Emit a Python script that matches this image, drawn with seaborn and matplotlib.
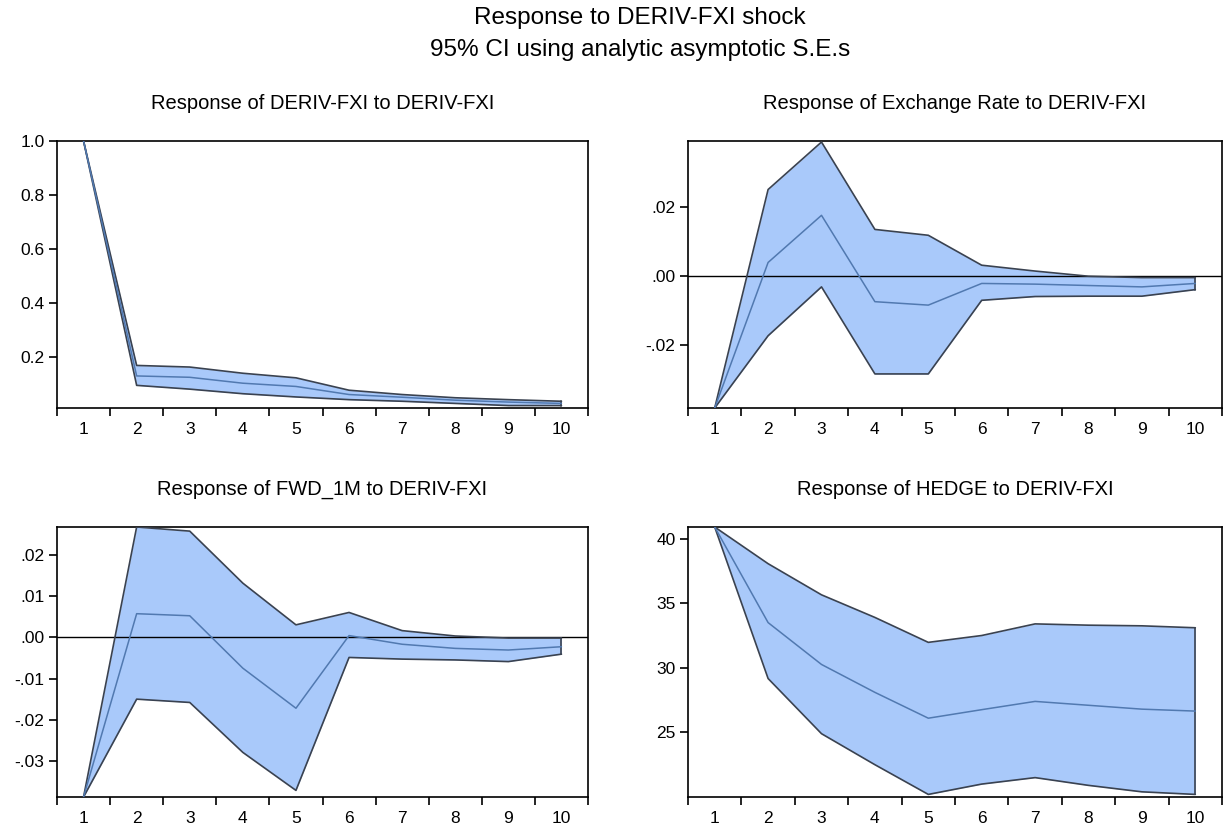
import numpy as np
import pandas as pd
import matplotlib
matplotlib.use("Agg")
import matplotlib.pyplot as plt
import seaborn as sns

periods = list(range(1, 11))

# Response of DERIV-FXI to DERIV-FXI
fxi_mean = [1.0, 0.128, 0.123, 0.101, 0.089, 0.059, 0.049, 0.038, 0.031, 0.026]
fxi_upper = [1.0, 0.167, 0.161, 0.138, 0.121, 0.075, 0.059, 0.047, 0.040, 0.034]
fxi_lower = [1.0, 0.093, 0.079, 0.062, 0.050, 0.040, 0.034, 0.026, 0.018, 0.018]

# Response of Exchange Rate to DERIV-FXI
er_mean = [-0.0383, 0.0040, 0.0177, -0.0074, -0.0084, -0.0021, -0.0023, -0.0027, -0.0031, -0.0021]
er_upper = [-0.0383, 0.0252, 0.0390, 0.0136, 0.0119, 0.0032, 0.0015, 0.0000, -0.0004, -0.0004]
er_lower = [-0.0383, -0.0173, -0.0031, -0.0284, -0.0284, -0.0070, -0.0059, -0.0058, -0.0058, -0.0039]

# Response of FWD_1M to DERIV-FXI
fwd_mean = [-0.0387, 0.0057, 0.0052, -0.0075, -0.0172, 0.0004, -0.0017, -0.0027, -0.0031, -0.0023]
fwd_upper = [-0.0387, 0.0267, 0.0257, 0.0131, 0.0030, 0.0060, 0.0016, 0.0003, -0.0002, -0.0002]
fwd_lower = [-0.0387, -0.0150, -0.0158, -0.0279, -0.0371, -0.0049, -0.0053, -0.0055, -0.0059, -0.0041]

# Response of HEDGE to DERIV-FXI
hedge_mean = [40.9, 33.5, 30.26, 28.1, 26.1, 26.76, 27.4, 27.1, 26.8, 26.65]
hedge_upper = [40.9, 38.06, 35.65, 33.9, 31.97, 32.5, 33.4, 33.3, 33.25, 33.1]
hedge_lower = [40.9, 29.17, 24.9, 22.5, 20.2, 21.0, 21.5, 20.9, 20.4, 20.2]

titles = ["Response of DERIV-FXI to DERIV-FXI",
          "Response of Exchange Rate to DERIV-FXI",
          "Response of FWD_1M to DERIV-FXI",
          "Response of HEDGE to DERIV-FXI"]

panels = [
    (fxi_mean, fxi_upper, fxi_lower, [0.2, 0.4, 0.6, 0.8, 1.0], ["0.2", "0.4", "0.6", "0.8", "1.0"], (0.009, 1.0), False),
    (er_mean, er_upper, er_lower, [-0.02, 0.0, 0.02], ["-.02", ".00", ".02"], (-0.0383, 0.0393), True),
    (fwd_mean, fwd_upper, fwd_lower, [-0.03, -0.02, -0.01, 0.0, 0.01, 0.02],
     ["-.03", "-.02", "-.01", ".00", ".01", ".02"], (-0.0387, 0.0267), True),
    (hedge_mean, hedge_upper, hedge_lower, [25, 30, 35, 40], ["25", "30", "35", "40"], (20.0, 40.9), False),
]

sns.set_style("white")
plt.rcParams['font.family'] = ['Liberation Sans', 'DejaVu Sans']
plt.rcParams['text.color'] = 'black'
plt.rcParams['xtick.color'] = 'black'
plt.rcParams['ytick.color'] = 'black'

fig = plt.figure(figsize=(12.24, 8.33), dpi=100)
W, H = 1224, 833
boxes = [(57, 141, 588, 408), (688, 141, 1222, 408),
         (57, 527, 588, 797), (688, 527, 1222, 797)]

fill_c = "#A9C9FA"
edge_c = "#3A4250"
mean_c = "#5179B0"

for (x0, y0, x1, y1), title, (m, u, l, yt, ytl, ylim, zero) in zip(boxes, titles, panels):
    ax = fig.add_axes([x0 / W, 1 - y1 / H, (x1 - x0) / W, (y1 - y0) / H])
    df = pd.DataFrame({"period": periods, "mean": m, "upper": u, "lower": l})
    ax.fill_between(df["period"], df["lower"], df["upper"], color=fill_c, linewidth=0, zorder=1)
    if zero:
        ax.axhline(0, color="black", lw=1.0, zorder=2)
    sns.lineplot(data=df, x="period", y="upper", ax=ax, color=edge_c, lw=1.2, zorder=3)
    sns.lineplot(data=df, x="period", y="lower", ax=ax, color=edge_c, lw=1.2, zorder=3)
    sns.lineplot(data=df, x="period", y="mean", ax=ax, color=mean_c, lw=1.1, zorder=4)
    ax.plot([10, 10], [l[-1], u[-1]], color=edge_c, lw=1.2, zorder=3)
    ax.set_xlim(0.5, 10.5)
    ax.set_ylim(*ylim)
    ax.set_xticks(np.arange(0.5, 11.0, 1.0))
    ax.set_xticklabels([])
    ax.set_xticks(periods, minor=True)
    ax.set_xticklabels([str(p) for p in periods], minor=True)
    ax.tick_params(axis="x", which="major", bottom=True, direction="out", length=6, width=1.2,
                   color="black", pad=2)
    ax.tick_params(axis="x", which="minor", bottom=True, length=0, labelsize=12.5, pad=10,
                   labelcolor="black")
    ax.set_yticks(yt)
    ax.set_yticklabels(ytl)
    ax.tick_params(axis="y", left=True, direction="out", length=6, width=1.2, color="black",
                   labelsize=12.5, pad=3, labelcolor="black")
    ax.set_xlabel("")
    ax.set_ylabel("")
    for s in ax.spines.values():
        s.set_visible(True)
        s.set_color("black")
        s.set_linewidth(1.2)
    ax.set_title(title, fontsize=14.5, pad=23, color="black")

fig.text(640 / W, 1 - 18 / H, "Response to DERIV-FXI shock", ha="center", va="center", fontsize=17.5)
fig.text(640 / W, 1 - 50 / H, "95% CI using analytic asymptotic S.E.s", ha="center", va="center", fontsize=17.5)

fig.savefig("out.png", dpi=100, facecolor="white")
